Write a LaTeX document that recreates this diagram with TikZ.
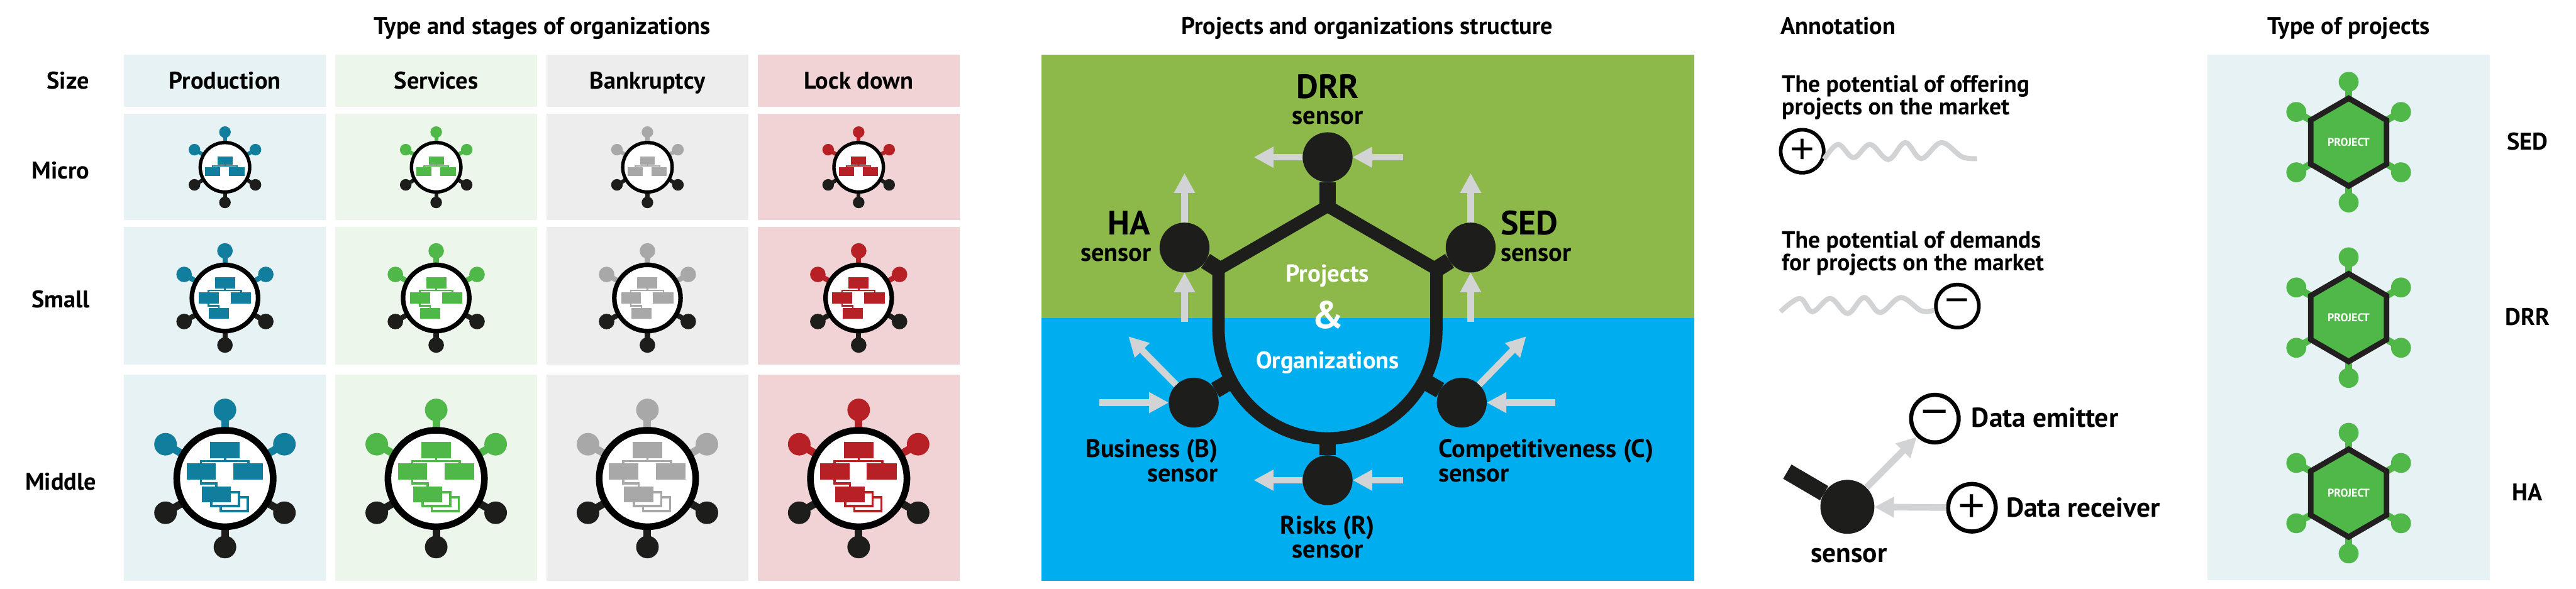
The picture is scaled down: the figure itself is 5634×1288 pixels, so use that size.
\documentclass[tikz,border=0pt]{standalone}
\usepackage{fontspec}
\setmainfont{PT Sans}
\newfontfamily\symf{Liberation Sans}
\usetikzlibrary{arrows.meta,calc}
\definecolor{cBlue}{HTML}{107E9C}
\definecolor{cGreen}{HTML}{50B848}
\definecolor{cGrey}{HTML}{A8A8A8}
\definecolor{cRed}{HTML}{B72025}
\definecolor{cBlk}{HTML}{1D1D1B}
\definecolor{bgBlue}{HTML}{E6F2F4}
\definecolor{bgGreen}{HTML}{ECF6EB}
\definecolor{bgGrey}{HTML}{EDEDED}
\definecolor{bgRed}{HTML}{F1D3D6}
\definecolor{panelG}{HTML}{8DB94A}
\definecolor{panelB}{HTML}{00AEEF}
\definecolor{arrowG}{HTML}{D1D3D4}
\definecolor{hexK}{HTML}{231F20}
\newcommand{\fz}[1]{\fontsize{#1}{#1}\selectfont\bfseries}
\tikzset{
  x=0.01cm,y=-0.01cm,
  txt/.style={inner sep=0pt,outer sep=0pt,font=\fz{15},text=black,anchor=mid,yshift=-0.08cm},
  txtw/.style={txt,anchor=mid west},
  txte/.style={txt,anchor=mid east},
  para/.style={inner sep=0pt,outer sep=0pt,anchor=west,align=left,font=\fontsize{14.7}{14.2}\selectfont\bfseries},
  sensorball/.style={circle,fill=cBlk,inner sep=0pt,outer sep=0pt,minimum size=1.09cm},
  shieldline/.style={draw=cBlk,line width=0.27cm},
  stemthick/.style={draw=cBlk,line width=0.36cm},
  greyarrow/.style={draw=arrowG,fill=arrowG,line width=0.145cm,-{Triangle[length=0.43cm,width=0.43cm]}},
  wave/.style={draw=arrowG,line width=0.11cm},
  signball/.style={circle,draw=black,fill=white,inner sep=0pt,line width=0.08cm,minimum size=0.94cm,font=\symf\fontsize{26}{26}\selectfont},
  bigsign/.style={circle,draw=black,fill=white,inner sep=0pt,line width=0.09cm,minimum size=1.04cm,font=\symf\fontsize{29}{29}\selectfont},
}
% cx cy scale colour level tree-shift
\newcommand{\orgicon}[6]{%
\begin{scope}[shift={(#1,#2)},scale=#3]
  \pgfmathsetmacro{\icsc}{#3}
  \foreach \pa/\pb/\pc in {0/-150/#4,-130/-75/#4,130/-75/#4,-130/75/cBlk,130/75/cBlk,0/150/cBlk}{
    \draw[\pc,line width=\icsc*0.165cm] (0,0)--(\pa,\pb);
    \fill[\pc] (\pa,\pb) circle[radius=24.7];
  }
  \draw[black,fill=white,line width=\icsc*0.145cm] (0,0) circle[radius=105.5];
  \begin{scope}[shift={(0,#6)}]
    \fill[#4] (-32,-80) rectangle (32,-44);
    \draw[#4,line width=\icsc*0.05cm] (0,-44)--(0,-38);
    \draw[#4,line width=\icsc*0.05cm] (-52.5,-33)--(-52.5,-38)--(51.5,-38)--(51.5,-33);
    \fill[#4] (-84,-33) rectangle (-20,3);
    \fill[#4] (18,-33) rectangle (83,3);
    \ifnum#5>1
      \draw[#4,line width=\icsc*0.05cm] (-52.5,3)--(-52.5,10.5)--(-19,10.5)--(-19,17);
      \ifnum#5>2
        \draw[#4,fill=white,line width=\icsc*0.05cm] (-9.5,41) rectangle (49.5,71);
        \draw[#4,fill=white,line width=\icsc*0.05cm] (-29.5,30) rectangle (30.5,60.5);
      \fi
      \fill[#4] (-51,17) rectangle (13,52);
    \fi
  \end{scope}
\end{scope}}
\newcommand{\hexicon}[2]{%
\begin{scope}[shift={(#1,#2)}]
  \foreach \pa/\pb in {0/-132,-114.5/-66,114.5/-66,-114.5/66,114.5/66,0/132}{
    \draw[cGreen,line width=0.15cm] (0,0)--(\pa,\pb);
    \fill[cGreen] (\pa,\pb) circle[radius=21.8];
  }
  \draw[hexK,fill=cGreen,line width=0.12cm,miter limit=10] (0,-96)--(83,-48)--(83,48)--(0,96)--(-83,48)--(-83,-48)--cycle;
  \node[txt,text=white,font=\fz{7},yshift=0.08cm] at (0,0) {PROJECT};
\end{scope}}
\begin{document}
\begin{tikzpicture}
\useasboundingbox (0,0) rectangle (5634,1288);
% table backgrounds
\foreach \cx/\cc in {271/bgBlue,733/bgGreen,1195/bgGrey,1657/bgRed}{
  \fill[\cc] (\cx,119) rectangle (\cx+442,234);
  \fill[\cc] (\cx,249) rectangle (\cx+442,482);
  \fill[\cc] (\cx,497) rectangle (\cx+442,798);
  \fill[\cc] (\cx,820) rectangle (\cx+442,1271);
}
\foreach \cx/\cc in {492/cBlue,954/cGreen,1416/cGrey,1878/cRed}{
  \orgicon{\cx}{366}{0.513}{\cc}{1}{33}
  \orgicon{\cx}{652}{0.687}{\cc}{2}{14}
  \orgicon{\cx}{1047}{1}{\cc}{3}{0}
}
% titles
\node[txt] (t1) at (1186,58) {Type and stages of organizations};
\node[txt] (t2) at (2990,58) {Projects and organizations structure};
\node[txtw] (t3) at (3894,58) {Annotation};
\node[txt] (t4) at (5137,58) {Type of projects};
\node[txt] (hs) at (149,178) {Size};
\node[txt] (hp) at (492,178) {Production};
\node[txt] (hv) at (954,178) {Services};
\node[txt] (hb) at (1416,178) {Bankruptcy};
\node[txt] (hl) at (1878,178) {Lock down};
\node[txt] (rm) at (133,375) {Micro};
\node[txt] (rs) at (133,657) {Small};
\node[txt] (rd) at (133,1056) {Middle};
% central panel
\fill[panelG] (2278,120) rectangle (3705,696);
\fill[panelB] (2278,696) rectangle (3705,1271);
\node[sensorball] (drr) at (2903.6,344) {};
\node[sensorball] (ha) at (2590.7,541.7) {};
\node[sensorball] (sed) at (3216.5,541.7) {};
\node[sensorball] (bs) at (2610.8,881) {};
\node[sensorball] (cs) at (3197,881) {};
\node[sensorball] (rk) at (2903.6,1050.7) {};
\coordinate (apex) at (2903.6,451);
\coordinate (shl) at (2665,589);
\coordinate (shr) at (3141.5,589);
\coordinate (cl) at (2665,721);
\coordinate (cr) at (3141.5,721);
\coordinate (bot) at (2903.6,959);
\coordinate (arcl) at (2690,835);
\coordinate (arcr) at (3117,835);
\draw[shieldline,line join=miter] (apex)--(shl)--(cl) arc[start angle=180,end angle=0,radius=238.25]--(shr)--cycle;
\draw[stemthick] (drr)--(apex);
\draw[stemthick] (rk)--(bot);
\draw[stemthick] (ha)--(shl);
\draw[stemthick] (sed)--(shr);
\draw[stemthick] (bs)--(arcl);
\draw[stemthick] (cs)--(arcr);
\coordinate (drrL) at (2742,344);
\coordinate (drrR) at (3068,344);
\coordinate (haU) at (2590.7,379);
\coordinate (haD) at (2590.7,704.5);
\coordinate (sedU) at (3216.5,379);
\coordinate (sedD) at (3216.5,704.5);
\coordinate (bO) at (2468,736);
\coordinate (bI) at (2404,881);
\coordinate (cO) at (3338,736);
\coordinate (cI) at (3401,881);
\coordinate (rkL) at (2742,1050.7);
\coordinate (rkR) at (3068,1050.7);
\draw[greyarrow] (drr)--(drrL);
\draw[greyarrow] (drrR)--(drr);
\draw[greyarrow] (ha)--(haU);
\draw[greyarrow] (haD)--(ha);
\draw[greyarrow] (sed)--(sedU);
\draw[greyarrow] (sedD)--(sed);
\draw[greyarrow] (bs)--(bO);
\draw[greyarrow] (bI)--(bs);
\draw[greyarrow] (cs)--(cO);
\draw[greyarrow] (cI)--(cs);
\draw[greyarrow] (rk)--(rkL);
\draw[greyarrow] (rkR)--(rk);
\node[txt,font=\fz{21}] (l1) at (2903.6,198) {DRR};
\node[txt,font=\fz{15.8}] (l2) at (2903.6,255) {sensor};
\node[txte,font=\fz{21}] (l3) at (2516,497) {HA};
\node[txte,font=\fz{15.8}] (l4) at (2518,555) {sensor};
\node[txtw,font=\fz{21}] (l5) at (3282,497) {SED};
\node[txtw,font=\fz{15.8}] (l6) at (3282,555) {sensor};
\node[txte,font=\fz{15.8}] (l7) at (2664,984) {Business (B)};
\node[txte,font=\fz{15.8}] (l8) at (2664,1037) {sensor};
\node[txtw,font=\fz{15.8}] (l9) at (3146,984) {Competitiveness (C)};
\node[txtw,font=\fz{15.8}] (l10) at (3146,1037) {sensor};
\node[txt,font=\fz{15.8}] (l11) at (2903.6,1151) {Risks (R)};
\node[txt,font=\fz{15.8}] (l12) at (2903.6,1204) {sensor};
\node[txt,text=white,font=\fz{15.2}] (l13) at (2903.6,600) {Projects};
\node[txt,text=white,font=\fz{24}] (l14) at (2903.6,702) {\&};
\node[txt,text=white,font=\fz{15}] (l15) at (2903.6,790) {Organizations};
% annotation
\node[para] (a1) at (3897,213) {The potential of offering\\projects on the market};
\node[signball] (ap) at (3941.6,331) {+};
\draw[wave] plot[smooth,tension=0.6] coordinates {(ap.-20) (4020,316) (4054,345) (4090,316) (4130,349) (4167,312) (4202,347) (4246,312) (4291,343) (4324,347)};
\node[para] (a2) at (3897,554) {The potential of demands\\for projects on the market};
\node[signball] (am) at (4281,669.7) {−};
\draw[wave] plot[smooth,tension=0.6] coordinates {(3894,682) (3936,653) (3964,682) (4003,653) (4041,686) (4077,651) (4112,684) (4157,651) (4202,680) (am.190)};
\node[sensorball,minimum size=1.18cm] (ss) at (4040.4,1109) {};
\node[bigsign] (em) at (4231.8,916) {−};
\node[bigsign] (rc) at (4312.8,1111) {+};
\coordinate (sst) at (3909,1032);
\draw[draw=cBlk,line width=0.36cm] (sst)--(ss);
\draw[greyarrow] (ss)--(em);
\draw[greyarrow] (rc)--(ss);
\node[txtw,font=\fz{17}] (a3) at (4312,918) {Data emitter};
\node[txtw,font=\fz{17}] (a4) at (4388,1115) {Data receiver};
\node[txt,font=\fz{17}] (a5) at (4043.6,1214) {sensor};
% projects panel
\fill[bgBlue] (4828,119) rectangle (5446,1270);
\hexicon{5136.7}{311}
\hexicon{5136.7}{695}
\hexicon{5136.7}{1079}
\node[txt] (p1) at (5528,311) {SED};
\node[txt] (p2) at (5528,695) {DRR};
\node[txt] (p3) at (5528,1079) {HA};
\end{tikzpicture}
\end{document}
